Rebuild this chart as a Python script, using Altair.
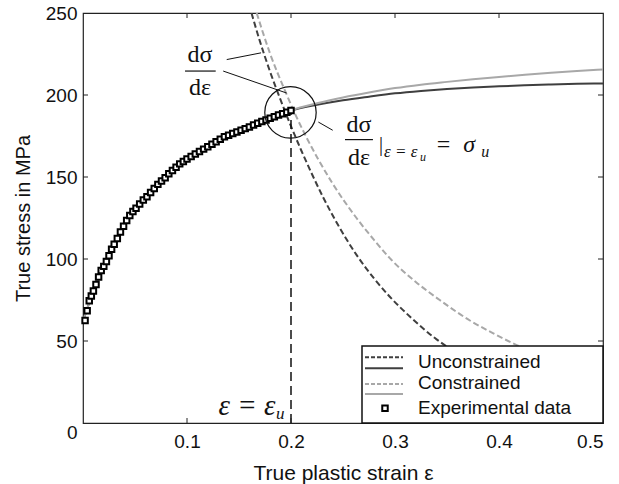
import altair as alt
import pandas as pd

# ---------------- data ----------------
# experimental flow curve (true plastic strain, true stress in MPa)
exp_strain = [0.002, 0.004, 0.006, 0.008, 0.010, 0.0125, 0.015, 0.0175, 0.020, 0.0225,
              0.025, 0.0275, 0.030, 0.033, 0.036, 0.039, 0.042, 0.045, 0.048, 0.051,
              0.0545, 0.058, 0.0615, 0.065, 0.0685, 0.072, 0.0755, 0.079, 0.0825, 0.086,
              0.0895, 0.093, 0.0965, 0.100, 0.104, 0.108, 0.112, 0.116, 0.120, 0.124,
              0.128, 0.132, 0.136, 0.140, 0.144, 0.148, 0.152, 0.156, 0.160, 0.164,
              0.168, 0.172, 0.176, 0.180, 0.184, 0.188, 0.192, 0.196, 0.200]
exp_stress = [62.5, 68.5, 74.5, 77.5, 80.5, 84.5, 89.0, 93.0, 95.5, 98.5,
              102.0, 106.0, 109.0, 112.5, 116.5, 120.0, 123.5, 126.5, 129.0, 131.0,
              133.5, 136.0, 138.0, 140.5, 143.0, 145.5, 147.5, 149.5, 152.0, 154.0,
              156.0, 158.0, 159.5, 161.0, 162.5, 164.0, 165.5, 167.0, 168.5, 170.0,
              171.5, 173.0, 174.5, 175.5, 176.5, 177.5, 178.5, 179.5, 180.5, 181.7,
              182.8, 183.8, 184.8, 185.8, 186.8, 187.8, 188.6, 189.5, 190.5]

# fitted flow curves
model_strain = [0.0, 0.01, 0.02, 0.03, 0.04, 0.05, 0.075, 0.1, 0.125, 0.15, 0.175, 0.2,
                0.225, 0.25, 0.275, 0.3, 0.325, 0.35, 0.375, 0.4, 0.425, 0.45, 0.475, 0.5]
unconstrained_stress = [62.0, 80.5, 95.5, 109.0, 121.2, 130.3, 147.2, 161.0, 170.4, 178.0,
                        184.5, 190.5, 194.0, 196.8, 199.0, 201.0, 202.5, 203.7, 204.6,
                        205.3, 205.9, 206.4, 206.8, 207.0]
constrained_stress = [62.0, 80.5, 95.5, 109.0, 121.2, 130.3, 147.2, 161.0, 170.4, 178.0,
                      184.6, 190.8, 195.0, 198.5, 201.5, 204.2, 206.3, 208.0, 209.6,
                      211.0, 212.3, 213.5, 214.6, 215.6]

# hardening rate d(sigma)/d(epsilon) of both fits
unc_rate_strain = [0.162, 0.17, 0.18, 0.19, 0.2, 0.21, 0.22, 0.231, 0.245, 0.263, 0.28,
                   0.295, 0.315, 0.34, 0.37, 0.4, 0.45, 0.5]
unc_rate = [250, 233, 214, 197, 181, 166, 152, 137.5, 121, 102.5, 88, 77, 64.5, 51,
            39, 29.8, 19.5, 12.8]
con_rate_strain = [0.167, 0.18, 0.194, 0.205, 0.215, 0.226, 0.24, 0.263, 0.28, 0.295,
                   0.32, 0.343, 0.372, 0.395, 0.417, 0.45, 0.5]
con_rate = [250, 225, 203, 187, 174, 161, 146, 125, 111.5, 100.5, 86, 75, 62.5, 54.5, 47.5,
            39, 30]

# uniform strain (Considere point)
eps_u = 0.2
sigma_u = 189.4

x_tick_values = [0.1, 0.2, 0.3, 0.4, 0.5]
y_tick_values = [0, 50, 100, 150, 200, 250]
inner_x_ticks = [0.1, 0.2, 0.3, 0.4]
inner_y_ticks = [50, 100, 150, 200]

# annotation leader lines and fraction bars (data units)
leaders = pd.DataFrame({
    "x": [0.1382, 0.1348, 0.2263],
    "y": [221.6, 214.6, 183.5],
    "x2": [0.1712, 0.1958, 0.2401],
    "y2": [225.7, 201.2, 178.5],
})
frac_bars = pd.DataFrame({
    "x": [0.0981, 0.2519],
    "y": [214.6, 172.8],
    "x2": [0.1276, 0.2788],
    "y2": [214.6, 172.8],
})

# ---------------- chart ----------------
W, H = 520, 410
xs = alt.Scale(domain=[0, 0.5], nice=False, zero=False)
ys = alt.Scale(domain=[0, 250], nice=False, zero=False)
SANS = "Liberation Sans"
SERIF = "Liberation Serif"
DARK = "#3f3f3f"
LIGHT = "#a8a8a8"
INK = "#111111"

x_axis = alt.Axis(
    values=x_tick_values, format=".1f", ticks=False, domain=False, grid=False,
    labelFont=SANS, labelFontSize=19, labelColor=INK, labelPadding=9,
    title="True plastic strain ε", titleFont=SANS, titleFontSize=21,
    titleFontWeight="normal", titleColor=INK,
    titleX=W / 2, titleY=56, titleAlign="center", titleBaseline="alphabetic",
)
y_axis = alt.Axis(
    values=y_tick_values, format="d", ticks=False, domain=False, grid=False,
    labelFont=SANS, labelFontSize=19, labelColor=INK, labelPadding=6,
    labelBaseline={"condition": {"test": "datum.value == 0", "value": "top"},
                   "value": "middle"},
    title="True stress in MPa", titleFont=SANS, titleFontSize=20,
    titleFontWeight="normal", titleColor=INK,
    titleX=-60, titleY=205, titleAngle=-90, titleAlign="center",
    titleBaseline="middle",
)


def X(field="x"):
    return alt.X(f"{field}:Q", scale=xs, axis=x_axis)


def Y(field="y"):
    return alt.Y(f"{field}:Q", scale=ys, axis=y_axis)


def line_df(xv, yv):
    return pd.DataFrame({"x": xv, "y": yv})


solid_unc = alt.Chart(line_df(model_strain, unconstrained_stress)).mark_line(
    color=DARK, strokeWidth=2, interpolate="monotone", clip=True
).encode(x=X(), y=Y())
solid_con = alt.Chart(line_df(model_strain, constrained_stress)).mark_line(
    color=LIGHT, strokeWidth=2, interpolate="monotone", clip=True
).encode(x=X(), y=Y())

dash_unc = alt.Chart(line_df(unc_rate_strain, unc_rate)).mark_line(
    color=DARK, strokeWidth=2, strokeDash=[6, 3], interpolate="monotone", clip=True
).encode(x=X(), y=Y())
dash_con = alt.Chart(line_df(con_rate_strain, con_rate)).mark_line(
    color=LIGHT, strokeWidth=2, strokeDash=[6, 3], interpolate="monotone", clip=True
).encode(x=X(), y=Y())

uniform_line = alt.Chart(pd.DataFrame({"x": [eps_u], "y": [0], "y2": [190]})).mark_rule(
    color=INK, strokeWidth=1.5, strokeDash=[9, 5]
).encode(x=X(), y=Y(), y2="y2:Q")

squares = alt.Chart(line_df(exp_strain, exp_stress)).mark_point(
    shape="square", filled=True, fill="white", stroke="black", strokeWidth=2,
    size=30, opacity=1
).encode(x=X(), y=Y())

circle = alt.Chart(pd.DataFrame({"x": [eps_u - 0.0005], "y": [sigma_u]})).mark_point(
    shape="circle", filled=False, stroke=INK, strokeWidth=1.2, size=2642, opacity=1
).encode(x=X(), y=Y())

leader_lines = alt.Chart(leaders).mark_rule(color=INK, strokeWidth=1).encode(
    x=X(), y=Y(), x2="x2:Q", y2="y2:Q")
bars = alt.Chart(frac_bars).mark_rule(color=INK, strokeWidth=1.2).encode(
    x=X(), y=Y(), x2="x2:Q", y2="y2:Q")

# math labels
frac_text = pd.DataFrame({
    "x": [0.1125, 0.1125, 0.2654, 0.2654],
    "y": [220.1, 199.8, 177.4, 157.1],
    "t": ["dσ", "dε", "dσ", "dε"],
})
frac_labels = alt.Chart(frac_text).mark_text(
    font=SERIF, fontSize=24, align="center", baseline="alphabetic", color=INK
).encode(x=X(), y=Y(), text="t:N")


def math_label(x, y, t, size, align="left", style="italic"):
    return alt.Chart(pd.DataFrame({"x": [x], "y": [y], "t": [t]})).mark_text(
        font=SERIF, fontSize=size, align=align, baseline="alphabetic",
        fontStyle=style, color=INK
    ).encode(x=X(), y=Y(), text="t:N")


criterion = [
    math_label(0.2846, 165.7, "|", 20, style="normal"),
    math_label(0.2894, 162.0, "ε = ε", 17),
    math_label(0.3240, 159.8, "u", 12),
    math_label(0.3466, 165.1, "=", 24, align="center", style="normal"),
    math_label(0.3712, 165.1, "σ", 24, align="center"),
    math_label(0.3830, 162.4, "u", 16),
    math_label(0.1850, 4.7, "ε = ε", 29, align="right"),
    math_label(0.1855, 2.5, "u", 17),
]

# inward tick marks on all four sides
xt = pd.DataFrame({"x": inner_x_ticks})
yt = pd.DataFrame({"y": inner_y_ticks})
tick_b = alt.Chart(xt).mark_rule(color="#222").encode(x=X(), y=alt.value(H), y2=alt.value(H - 5))
tick_t = alt.Chart(xt).mark_rule(color="#222").encode(x=X(), y=alt.value(0), y2=alt.value(5))
tick_l = alt.Chart(yt).mark_rule(color="#222").encode(y=Y(), x=alt.value(0), x2=alt.value(5))
tick_r = alt.Chart(yt).mark_rule(color="#222").encode(y=Y(), x=alt.value(W - 5), x2=alt.value(W))

# legend box (pixel layout inside the plot area)
legend_box = alt.Chart(pd.DataFrame({"a": [0]})).mark_rect(
    fill="white", stroke=INK, strokeWidth=1.5
).encode(x=alt.value(279), x2=alt.value(W), y=alt.value(333), y2=alt.value(H))

legend_lines = pd.DataFrame({
    "px": [282, 282, 282, 282],
    "px2": [320, 320, 320, 320],
    "py": [344.3, 355.3, 371.0, 381.0],
    "kind": ["ud", "us", "cd", "cs"],
})


def legend_sample(kind, color, dash):
    props = dict(color=color, strokeWidth=2)
    if dash:
        props["strokeDash"] = [4, 2]
    return alt.Chart(legend_lines[legend_lines.kind == kind]).mark_rule(**props).encode(
        x=alt.X("px:Q", scale=None), x2="px2:Q", y=alt.Y("py:Q", scale=None))


legend_samples = [
    legend_sample("ud", DARK, True),
    legend_sample("us", DARK, False),
    legend_sample("cd", LIGHT, True),
    legend_sample("cs", LIGHT, False),
]
legend_square = alt.Chart(pd.DataFrame({"px": [302], "py": [395.3]})).mark_point(
    shape="square", filled=True, fill="white", stroke="black", strokeWidth=2,
    size=30, opacity=1
).encode(x=alt.X("px:Q", scale=None), y=alt.Y("py:Q", scale=None))
legend_text = alt.Chart(pd.DataFrame({
    "px": [335, 335, 335],
    "py": [348.7, 370.3, 395.3],
    "t": ["Unconstrained", "Constrained", "Experimental data"],
})).mark_text(font=SANS, fontSize=19, align="left", baseline="middle", color=INK).encode(
    x=alt.X("px:Q", scale=None), y=alt.Y("py:Q", scale=None), text="t:N")

chart = alt.layer(
    solid_unc, solid_con, dash_unc, dash_con, uniform_line, squares, circle,
    leader_lines, bars, frac_labels, *criterion,
    tick_b, tick_t, tick_l, tick_r,
    legend_box, *legend_samples, legend_square, legend_text,
).properties(
    width=W, height=H,
    padding={"left": 83, "top": 13, "right": 16, "bottom": 61},
    autosize=alt.AutoSizeParams(type="none"),
    background="white",
).configure_view(stroke="#222", strokeWidth=1.2)

chart.save("out.html", embed_options={"renderer": "svg", "actions": False})
